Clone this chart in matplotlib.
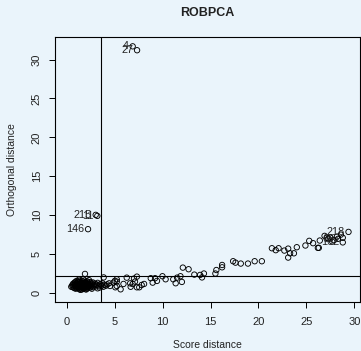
import matplotlib
matplotlib.use("Agg")
import matplotlib.pyplot as plt

plt.rcParams['font.family'] = ['Liberation Sans', 'DejaVu Sans']

# Score distance / orthogonal distance for each observation
score_dist = [
    # bulk of regular observations
    0.45, 0.60, 0.70, 0.75, 0.80, 0.85, 0.90, 0.95, 1.00, 1.00, 1.05, 1.10, 1.10, 1.15,
    1.20, 1.20, 1.25, 1.30, 1.30, 1.35, 1.35, 1.40, 1.40, 1.45, 1.45, 1.50, 1.50, 1.55,
    1.55, 1.60, 1.60, 1.65, 1.65, 1.70, 1.70, 1.75, 1.75, 1.80, 1.80, 1.85, 1.85, 1.90,
    1.90, 1.95, 1.95, 2.00, 2.00, 2.05, 2.10, 2.10, 2.15, 2.20, 2.20, 2.25, 2.30, 2.35,
    2.40, 2.45, 2.50, 2.55, 2.60, 2.70, 2.80, 2.90, 3.00, 3.10, 3.20, 3.30, 3.40, 3.50,
    3.60, 3.70, 3.80, 3.90, 1.88, 1.25, 1.70, 2.30, 0.65, 1.00, 1.40, 2.00, 2.60, 3.20,
    0.55, 0.80, 1.05, 1.30, 1.55, 1.80, 2.05, 1.15, 1.45, 1.75, 0.95, 1.60, 1.95, 2.25,
    1.35, 1.65, 1.20, 1.50, 1.85, 2.15, 2.40, 0.85, 1.10, 2.70, 3.05, 2.50,
    # moderate score distances
    4.08, 4.40, 4.85, 5.20, 5.20, 5.05, 5.60, 5.90, 6.60, 6.65, 6.86, 7.10, 7.30, 7.55,
    7.80, 8.05, 5.20, 5.00, 3.83, 4.20, 4.50,
    6.24, 7.00, 7.30, 8.75, 9.20, 9.97, 8.95, 9.40, 10.30, 11.10, 11.35, 11.50, 11.85,
    12.00, 12.10, 12.70, 13.30, 13.90, 14.10, 14.30, 15.50, 15.60, 16.20, 16.20,
    17.35, 17.60, 18.15, 18.90, 19.60, 20.35,
    21.40, 21.80, 22.10, 22.70, 23.10, 23.10, 23.30, 23.70, 24.00, 24.90, 25.30, 25.70,
    26.20, 26.30, 26.40, 26.90, 27.15, 27.50, 27.85, 27.70, 28.20, 28.60, 28.80, 28.80,
    29.40, 28.30, 27.30,
    # orthogonal outliers and bad leverage points
    6.86, 7.32, 3.00, 3.17, 2.20,
]
orth_dist = [
    0.80, 0.75, 0.95, 0.65, 1.10, 0.85, 0.55, 1.25, 0.70, 1.00, 0.90, 1.35, 0.60, 1.10,
    0.80, 1.50, 0.95, 0.50, 1.20, 0.70, 1.40, 0.90, 1.05, 0.60, 1.30, 0.80, 1.15, 1.55,
    0.45, 1.00, 0.70, 1.25, 0.90, 1.45, 0.55, 1.10, 0.80, 1.30, 0.65, 0.95, 1.60, 0.75,
    1.15, 0.50, 1.40, 1.00, 0.70, 1.20, 0.85, 1.50, 0.60, 1.05, 1.30, 0.80, 1.15, 0.95,
    1.40, 0.70, 1.10, 0.90, 1.25, 0.75, 1.00, 1.20, 0.85, 1.05, 1.30, 0.95, 0.70, 1.15,
    0.90, 1.25, 0.80, 1.05, 2.45, 1.70, 1.75, 1.65, 1.20, 1.55, 0.40, 0.45, 0.55, 0.60,
    1.00, 1.30, 1.20, 0.85, 1.25, 1.05, 0.95, 0.75, 1.00, 1.20, 0.90, 0.85, 1.30, 1.00,
    1.10, 0.65, 1.40, 0.95, 0.85, 0.75, 1.00, 1.40, 0.90, 1.35, 1.10, 0.85,
    0.94, 1.24, 1.33, 1.46, 0.90, 0.73, 0.47, 1.16, 1.24, 0.80, 1.16, 1.46, 0.73, 0.73,
    1.03, 1.16, 1.76, 1.55, 2.00, 1.10, 0.90,
    1.97, 1.85, 2.10, 1.90, 1.90, 2.15, 1.33, 1.55, 1.76, 1.76, 1.25, 1.97, 2.15,
    1.42, 3.26, 3.05, 2.36, 2.32, 2.00, 2.50, 2.50, 2.95, 3.60, 3.30,
    4.08, 3.90, 3.78, 3.78, 4.08, 4.08,
    5.75, 5.50, 5.75, 5.45, 5.70, 4.55, 5.10, 5.10, 5.88, 6.10, 6.70, 6.40,
    5.80, 5.80, 6.74, 7.34, 7.10, 7.10, 6.80, 6.60, 7.25, 7.50, 7.10, 6.50,
    7.85, 6.95, 7.00,
    31.70, 31.20, 10.04, 9.91, 8.20,
]

# Labelled observations: (label, score distance, orthogonal distance)
label_ids = ["4", "27", "215", "11", "146", "218", "69", "162"]
label_sd = [6.86, 7.32, 3.00, 3.17, 2.20, 29.40, 28.30, 28.80]
label_od = [31.70, 31.20, 10.04, 9.91, 8.20, 7.85, 6.95, 6.50]

# Cutoff values for the two distances
sd_cutoff = 3.55
od_cutoff = 2.15

x_ticks = [0, 5, 10, 15, 20, 25, 30]
y_ticks = [0, 5, 10, 15, 20, 25, 30]

bg = "#eaf4fb"
W, H, DPI = 361, 351, 100
fig = plt.figure(figsize=(W / DPI, H / DPI), dpi=DPI, facecolor=bg)
ax = fig.add_axes([55 / W, 1 - 302 / H, 305 / W, 265 / H], facecolor=bg)

ax.scatter(score_dist, orth_dist, s=15, facecolors="none", edgecolors="black",
           linewidths=0.65, zorder=3)

for lab, x, y in zip(label_ids, label_sd, label_od):
    ax.annotate(lab, (x, y), xytext=(-2.5, 0), textcoords="offset points",
                ha="right", va="center", fontsize=7.8, color="#222222", zorder=4)

ax.axvline(sd_cutoff, color="black", lw=0.8, zorder=2)
ax.axhline(od_cutoff, color="black", lw=0.8, zorder=2)

ax.set_xlim(-1.25, 30.6)
ax.set_ylim(-1.16, 32.9)
ax.set_xticks(x_ticks)
ax.set_yticks(y_ticks)
ax.set_yticklabels([str(t) for t in y_ticks], rotation=90, va="center")
ax.tick_params(direction="out", length=4.5, width=0.7, labelsize=8,
               colors="black", labelcolor="#222222")
ax.tick_params(axis="x", pad=6)
ax.tick_params(axis="y", pad=5)
for sp in ax.spines.values():
    sp.set_linewidth(0.8)

ax.set_xlabel("Score distance", fontsize=7.5, color="#222222", labelpad=9.5)
ax.set_ylabel("Orthogonal distance", fontsize=7.5, color="#222222", labelpad=11)
ax.set_title("ROBPCA", fontsize=9, fontweight="bold", color="#222222", pad=15)

fig.savefig("out.png", dpi=DPI, facecolor=bg)
